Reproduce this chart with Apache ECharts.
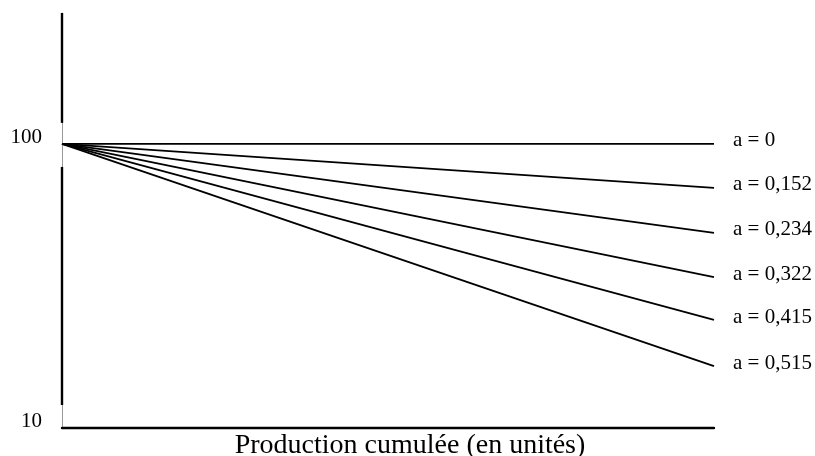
<!DOCTYPE html>
<html>
<head>
<meta charset="utf-8">
<script src="https://cdn.jsdelivr.net/npm/echarts@6/dist/echarts.min.js"></script>
<style>
  html, body { margin: 0; padding: 0; background: #fff; }
  #chart { width: 815px; height: 456px; }
</style>
</head>
<body>
<div id="chart"></div>
<script>
// Learning curves on log-log scales: unit cost vs cumulative production
const exponents = ['0', '0,152', '0,234', '0,322', '0,415', '0,515'];
const startCost = [100, 100, 100, 100, 100, 100];
const endCost = [100, 70, 48.6, 34, 24, 16.5];
const productionRange = [1, 10];
const yTicks = [10, 100];
const yAxisMax = 289;
// thick parts of the vertical axis (value ranges)
const axisSegments = [[yAxisMax, 118.6], [83, 12.05]];

const serif = '"Liberation Serif", "DejaVu Serif", serif';

const curveSeries = exponents.map((a, i) => ({
  type: 'line',
  name: 'a = ' + a,
  data: [[productionRange[0], startCost[i]], [productionRange[1], endCost[i]]],
  symbol: 'none',
  lineStyle: { color: '#000', width: 1.8 },
  endLabel: {
    show: true,
    formatter: 'a = ' + a,
    distance: 19,
    offset: [0, -3],
    color: '#000',
    fontFamily: serif,
    fontSize: 21
  },
  silent: true,
  animation: false
}));

const segmentSeries = axisSegments.map(seg => ({
  type: 'line',
  data: [[productionRange[0], seg[0]], [productionRange[0], seg[1]]],
  symbol: 'none',
  clip: false,
  lineStyle: { color: '#000', width: 2.4 },
  silent: true,
  animation: false
}));

const chart = echarts.init(document.getElementById('chart'), null, { renderer: 'canvas' });
chart.setOption({
  animation: false,
  grid: { left: 62, right: 101, top: 13, bottom: 28, containLabel: false, outerBoundsMode: 'none' },
  xAxis: {
    type: 'log',
    min: productionRange[0],
    max: productionRange[1],
    name: 'Production cumulée (en unités)',
    nameLocation: 'middle',
    nameGap: 4,
    nameTextStyle: {
      color: '#000', fontFamily: serif, fontSize: 28, verticalAlign: 'top',
      padding: [0, 0, 0, 44]
    },
    axisLine: { lineStyle: { color: '#000', width: 2.4 } },
    axisTick: { show: false },
    axisLabel: { show: false },
    splitLine: { show: false }
  },
  yAxis: {
    type: 'log',
    min: yTicks[0],
    max: yAxisMax,
    axisLine: { show: true, lineStyle: { color: '#999', width: 1 } },
    axisTick: { show: false },
    splitLine: { show: false },
    axisLabel: {
      color: '#000',
      fontFamily: serif,
      fontSize: 21,
      lineHeight: 13,
      margin: 20,
      verticalAlign: 'bottom',
      formatter: v => (yTicks.includes(Math.round(v)) ? String(Math.round(v)) : '')
    }
  },
  series: segmentSeries.concat(curveSeries)
});
</script>
</body>
</html>
